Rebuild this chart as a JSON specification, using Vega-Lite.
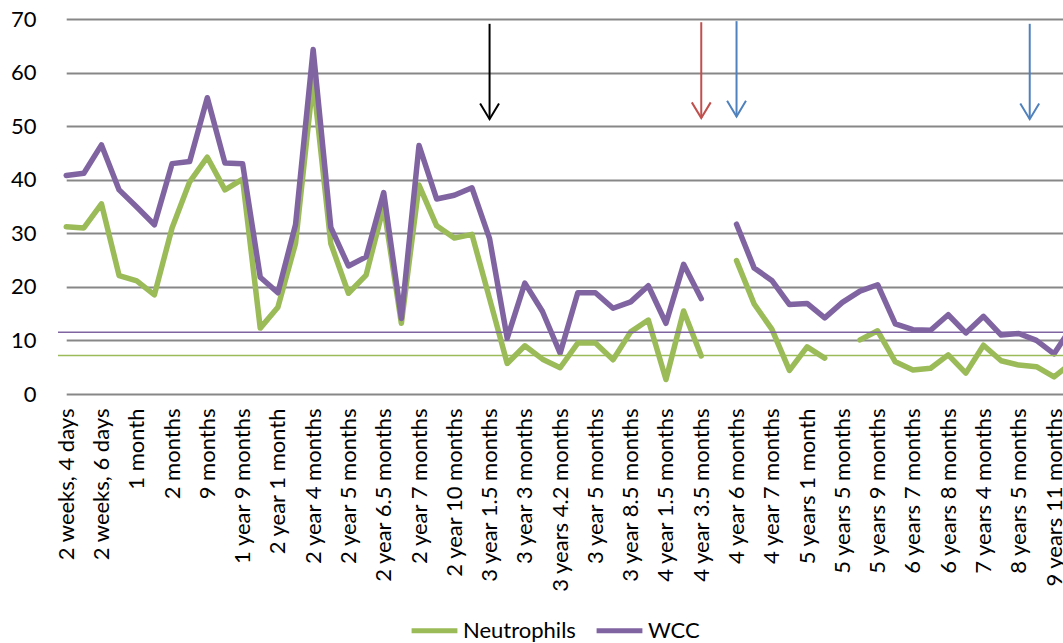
{
  "$schema": "https://vega.github.io/schema/vega-lite/v6.json",
  "width": 1005,
  "height": 375,
  "padding": {"left": 10, "top": 8, "right": 0, "bottom": 0},
  "background": "white",
  "config": {
    "view": {"stroke": null},
    "font": "Lato",
    "axis": {"labelFont": "Lato", "labelColor": "#000000", "labelFontSize": 22, "ticks": false, "domain": false, "title": null, "labelLimit": 400},
    "legend": {"labelFont": "Lato", "labelColor": "#000000", "labelFontSize": 22}
  },
  "datasets": {
    "series": [
      {"age": "2 weeks, 4 days", "Neutrophils": 31.2, "WCC": 40.8},
      {"age": "(unlabelled 1)", "Neutrophils": 31.0, "WCC": 41.2},
      {"age": "2 weeks, 6 days", "Neutrophils": 35.5, "WCC": 46.5},
      {"age": "(unlabelled 3)", "Neutrophils": 22.1, "WCC": 38.1},
      {"age": "1 month", "Neutrophils": 21.1, "WCC": 34.9},
      {"age": "(unlabelled 5)", "Neutrophils": 18.5, "WCC": 31.6},
      {"age": "2 months", "Neutrophils": 31.0, "WCC": 43.0},
      {"age": "(unlabelled 7)", "Neutrophils": 39.6, "WCC": 43.4},
      {"age": "9 months", "Neutrophils": 44.2, "WCC": 55.3},
      {"age": "(unlabelled 9)", "Neutrophils": 38.1, "WCC": 43.1},
      {"age": "1 year 9 months", "Neutrophils": 40.1, "WCC": 43.0},
      {"age": "(unlabelled 11)", "Neutrophils": 12.3, "WCC": 21.8},
      {"age": "2 year 1 month", "Neutrophils": 16.2, "WCC": 18.9},
      {"age": "(unlabelled 13)", "Neutrophils": 28.1, "WCC": 31.6},
      {"age": "2 year 4 months", "Neutrophils": 58.6, "WCC": 64.3},
      {"age": "(unlabelled 15)", "Neutrophils": 28.1, "WCC": 31.1},
      {"age": "2 year 5 months", "Neutrophils": 18.8, "WCC": 23.9},
      {"age": "(unlabelled 17)", "Neutrophils": 22.2, "WCC": 25.6},
      {"age": "2 year 6.5 months", "Neutrophils": 35.0, "WCC": 37.6},
      {"age": "(unlabelled 19)", "Neutrophils": 13.2, "WCC": 14.1},
      {"age": "2 year  7 months", "Neutrophils": 39.0, "WCC": 46.4},
      {"age": "(unlabelled 21)", "Neutrophils": 31.4, "WCC": 36.4},
      {"age": "2 year 10 months", "Neutrophils": 29.1, "WCC": 37.1},
      {"age": "(unlabelled 23)", "Neutrophils": 29.8, "WCC": 38.5},
      {"age": "3 year 1.5 months", "Neutrophils": 17.8, "WCC": 29.0},
      {"age": "(unlabelled 25)", "Neutrophils": 5.7, "WCC": 10.4},
      {"age": "3 year 3 months", "Neutrophils": 9.0, "WCC": 20.7},
      {"age": "(unlabelled 27)", "Neutrophils": 6.5, "WCC": 15.4},
      {"age": "3 years 4.2 months", "Neutrophils": 4.9, "WCC": 7.6},
      {"age": "(unlabelled 29)", "Neutrophils": 9.5, "WCC": 18.9},
      {"age": "3 year 5 months", "Neutrophils": 9.5, "WCC": 18.9},
      {"age": "(unlabelled 31)", "Neutrophils": 6.4, "WCC": 16.0},
      {"age": "3 year 8.5 months", "Neutrophils": 11.6, "WCC": 17.2},
      {"age": "(unlabelled 33)", "Neutrophils": 13.8, "WCC": 20.2},
      {"age": "4 year 1.5 months", "Neutrophils": 2.7, "WCC": 13.2},
      {"age": "(unlabelled 35)", "Neutrophils": 15.5, "WCC": 24.2},
      {"age": "4 year 3.5 months", "Neutrophils": 7.1, "WCC": 17.8},
      {"age": "(unlabelled 37)", "Neutrophils": null, "WCC": null},
      {"age": "4 year 6 months", "Neutrophils": 24.9, "WCC": 31.7},
      {"age": "(unlabelled 39)", "Neutrophils": 16.8, "WCC": 23.5},
      {"age": "4 year 7 months", "Neutrophils": 12.1, "WCC": 21.2},
      {"age": "(unlabelled 41)", "Neutrophils": 4.4, "WCC": 16.7},
      {"age": "5 years 1 month", "Neutrophils": 8.8, "WCC": 16.9},
      {"age": "(unlabelled 43)", "Neutrophils": 6.7, "WCC": 14.2},
      {"age": "5 years 5 months", "Neutrophils": null, "WCC": 17.1},
      {"age": "(unlabelled 45)", "Neutrophils": 10.1, "WCC": 19.2},
      {"age": "5 years 9 months", "Neutrophils": 11.8, "WCC": 20.4},
      {"age": "(unlabelled 47)", "Neutrophils": 6.0, "WCC": 13.1},
      {"age": "6 years 7 months", "Neutrophils": 4.5, "WCC": 12.0},
      {"age": "(unlabelled 49)", "Neutrophils": 4.8, "WCC": 11.9},
      {"age": "6 years 8 months", "Neutrophils": 7.3, "WCC": 14.8},
      {"age": "(unlabelled 51)", "Neutrophils": 3.9, "WCC": 11.4},
      {"age": "7 years 4 months", "Neutrophils": 9.1, "WCC": 14.5},
      {"age": "(unlabelled 53)", "Neutrophils": 6.2, "WCC": 11.0},
      {"age": "8 years 5 months", "Neutrophils": 5.4, "WCC": 11.3},
      {"age": "(unlabelled 55)", "Neutrophils": 5.1, "WCC": 10.0},
      {"age": "9 years 11 months", "Neutrophils": 3.2, "WCC": 7.5},
      {"age": "(unlabelled 57)", "Neutrophils": 5.8, "WCC": 12.5}
    ],
    "limits": [
      {"series": "WCC", "level": 11.55},
      {"series": "Neutrophils", "level": 7.2}
    ],
    "arrows": [
      {"age": "3 year 1.5 months", "event": "A", "from": 69.1, "to": 51.3},
      {"age": "4 year 3.5 months", "event": "B", "from": 69.4, "to": 51.5},
      {"age": "4 year 6 months", "event": "C", "from": 69.6, "to": 51.8},
      {"age": "(unlabelled 55)", "event": "D", "from": 69.1, "to": 51.3}
    ]
  },
  "layer": [
    {
      "data": {"name": "series"},
      "transform": [{"fold": ["Neutrophils", "WCC"], "as": ["series", "value"]}],
      "mark": {"type": "line", "strokeWidth": 5.5, "clip": true, "invalid": "break-paths-show-domains", "strokeJoin": "round", "strokeCap": "round"},
      "encoding": {
        "x": {
          "field": "age", "type": "ordinal", "sort": null,
          "scale": {"type": "point", "padding": 0, "range": [8.2, 1013.7]},
          "axis": {
            "labelAngle": -90, "labelPadding": 14, "labelOverlap": false,
            "values": ["2 weeks, 4 days", "2 weeks, 6 days", "1 month", "2 months", "9 months", "1 year 9 months", "2 year 1 month", "2 year 4 months", "2 year 5 months", "2 year 6.5 months", "2 year  7 months", "2 year 10 months", "3 year 1.5 months", "3 year 3 months", "3 years 4.2 months", "3 year 5 months", "3 year 8.5 months", "4 year 1.5 months", "4 year 3.5 months", "4 year 6 months", "4 year 7 months", "5 years 1 month", "5 years 5 months", "5 years 9 months", "6 years 7 months", "6 years 8 months", "7 years 4 months", "8 years 5 months", "9 years 11 months"]
          }
        },
        "y": {
          "field": "value", "type": "quantitative",
          "scale": {"domain": [0, 70], "nice": false},
          "axis": {"values": [0, 10, 20, 30, 40, 50, 60, 70], "grid": true, "gridColor": "#878787", "gridWidth": 2, "labelPadding": 22}
        },
        "color": {
          "field": "series", "type": "nominal",
          "scale": {"domain": ["Neutrophils", "WCC"], "range": ["#9BBB59", "#8064A2"]},
          "legend": {"title": null, "orient": "none", "legendX": 351, "legendY": 586, "direction": "horizontal", "symbolType": "stroke", "symbolStrokeWidth": 5, "symbolSize": 2100, "columnPadding": 10, "labelOffset": 3}
        }
      }
    },
    {
      "data": {"name": "limits"},
      "mark": {"type": "rule", "strokeWidth": 1.5},
      "encoding": {
        "y": {"field": "level", "type": "quantitative"},
        "color": {"field": "series", "type": "nominal"}
      }
    },
    {
      "data": {"name": "arrows"},
      "transform": [{"filter": "datum.event != 'D'"}],
      "mark": {"type": "rule", "strokeWidth": 2},
      "encoding": {
        "x": {"field": "age", "type": "ordinal", "sort": null},
        "y": {"field": "from", "type": "quantitative"},
        "y2": {"field": "to"},
        "stroke": {"field": "event", "type": "nominal", "scale": {"domain": ["A", "B", "C", "D"], "range": ["#000000", "#C0504D", "#4F81BD", "#4F81BD"]}, "legend": null}
      }
    },
    {
      "data": {"name": "arrows"},
      "transform": [{"filter": "datum.event != 'D'"}],
      "mark": {"type": "point", "shape": "M-0.6,-1L0,0L0.6,-1", "size": 990, "filled": false, "strokeWidth": 2, "opacity": 1},
      "encoding": {
        "x": {"field": "age", "type": "ordinal", "sort": null},
        "y": {"field": "to", "type": "quantitative"},
        "stroke": {"field": "event", "type": "nominal", "legend": null}
      }
    },
    {
      "data": {"name": "arrows"},
      "transform": [{"filter": "datum.event == 'D'"}],
      "mark": {"type": "rule", "strokeWidth": 2, "xOffset": -6.7},
      "encoding": {
        "x": {"field": "age", "type": "ordinal", "sort": null},
        "y": {"field": "from", "type": "quantitative"},
        "y2": {"field": "to"},
        "stroke": {"field": "event", "type": "nominal", "legend": null}
      }
    },
    {
      "data": {"name": "arrows"},
      "transform": [{"filter": "datum.event == 'D'"}],
      "mark": {"type": "point", "shape": "M-0.6,-1L0,0L0.6,-1", "size": 990, "filled": false, "strokeWidth": 2, "opacity": 1, "xOffset": -6.7},
      "encoding": {
        "x": {"field": "age", "type": "ordinal", "sort": null},
        "y": {"field": "to", "type": "quantitative"},
        "stroke": {"field": "event", "type": "nominal", "legend": null}
      }
    }
  ]
}
